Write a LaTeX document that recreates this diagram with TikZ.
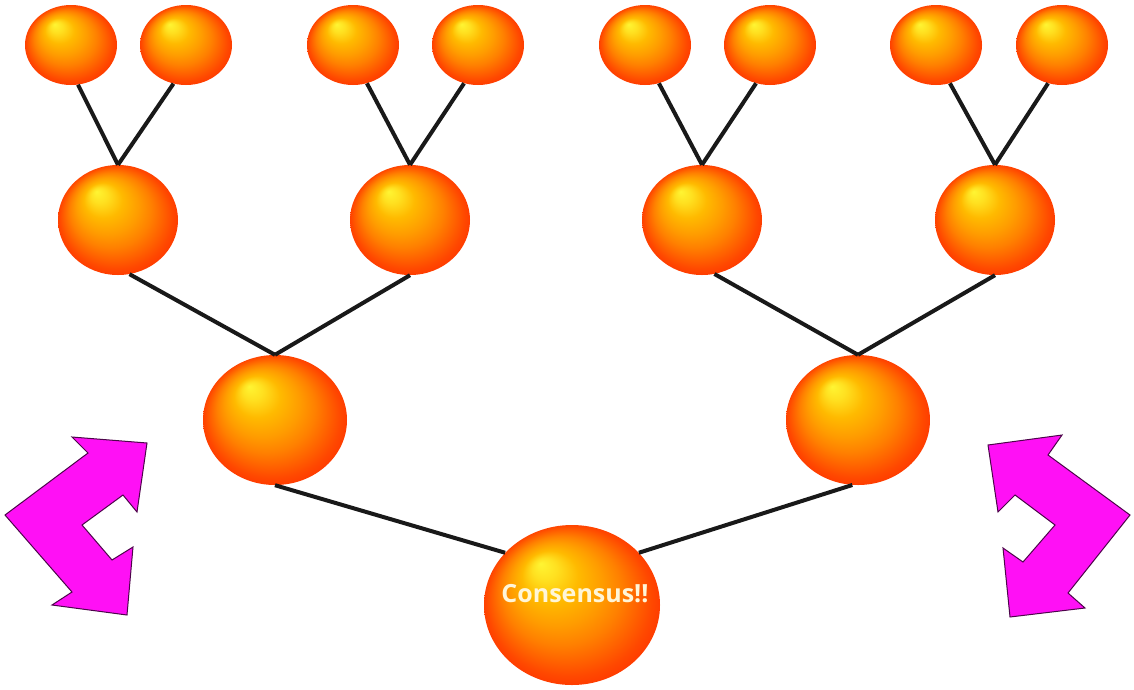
\documentclass[tikz,border=0pt]{standalone}
\usepackage{fontspec}
\setmainfont{Open Sans}
\usetikzlibrary{shapes.geometric}
\definecolor{mag}{HTML}{FF10F5}
\definecolor{txt}{HTML}{FFF6D8}
\definecolor{s0}{HTML}{FFF533}
\definecolor{s1}{HTML}{FFE020}
\definecolor{s2}{HTML}{FFBA00}
\definecolor{s3}{HTML}{FF9C00}
\definecolor{s4}{HTML}{FF8000}
\definecolor{s5}{HTML}{FF6200}
\definecolor{s6}{HTML}{FF4800}
\definecolor{s7}{HTML}{FF3800}
\pgfdeclareradialshading{orb}{\pgfpoint{-9bp}{13bp}}{%
  color(0bp)=(s0); color(3.5bp)=(s1); color(8bp)=(s2); color(13bp)=(s3);
  color(17bp)=(s4); color(20.5bp)=(s5); color(23.5bp)=(s6); color(26bp)=(s7)}
\tikzset{
  orbnode/.style={ellipse, inner sep=0pt, shading=orb, draw=none},
  small/.style={orbnode, minimum width=92pt, minimum height=80pt},
  medium/.style={orbnode, minimum width=120pt, minimum height=110pt},
  large/.style={orbnode, minimum width=144pt, minimum height=130pt},
  huge/.style={orbnode, minimum width=176pt, minimum height=160pt},
  link/.style={line width=4pt, draw=black!90},
  bigarrow/.style={fill=mag, draw=black!70!mag, line width=1pt, line join=miter}
}
\begin{document}
\begin{tikzpicture}[x=1pt,y=-1pt]
\useasboundingbox (0,0) rectangle (1134,689);
% top row
\node[small] (a1) at (71,45) {};
\node[small] (a2) at (186,45) {};
\node[small] (a3) at (353,45) {};
\node[small] (a4) at (478,45) {};
\node[small] (a5) at (645,45) {};
\node[small] (a6) at (770,45) {};
\node[small] (a7) at (936,45) {};
\node[small] (a8) at (1062,45) {};
% second row
\node[medium] (b1) at (118,220) {};
\node[medium] (b2) at (410,220) {};
\node[medium] (b3) at (702,220) {};
\node[medium] (b4) at (995,220) {};
% third row
\node[large] (c1) at (275,420) {};
\node[large] (c2) at (858,420) {};
% bottom
\node[huge] (d) at (572,605) {};
\node[font=\bfseries\fontsize{25}{28}\selectfont, text=txt] (lbl) at (575,594) {Consensus!!};
% links
\draw[link] (a1.-80) -- (b1.north);
\draw[link] (a2.-108) -- (b1.north);
\draw[link] (a3.-70) -- (b2.north);
\draw[link] (a4.-110) -- (b2.north);
\draw[link] (a5.-70) -- (b3.north);
\draw[link] (a6.-110) -- (b3.north);
\draw[link] (a7.-70) -- (b4.north);
\draw[link] (a8.-110) -- (b4.north);
\draw[link] (b1.-78) -- (c1.north);
\draw[link] (b2.south) -- (c1.north);
\draw[link] (b3.-77) -- (c2.north);
\draw[link] (b4.south) -- (c2.north);
\draw[link] (c1.south) -- (d.142);
\draw[link] (c2.-95) -- (d.38);
% arrows
\draw[bigarrow] (5,515) -- (88,453) -- (72,437) -- (147,443) -- (137,512) -- (123,495)
  -- (82,525) -- (112,560) -- (133,547) -- (127,615) -- (52,605) -- (72,592) -- cycle;
\draw[bigarrow] (988,445) -- (1062,435) -- (1048,455) -- (1130,515) -- (1068,593) -- (1085,608)
  -- (1010,617) -- (1003,548) -- (1023,562) -- (1055,525) -- (1015,495) -- (998,512) -- cycle;
\end{tikzpicture}
\end{document}
